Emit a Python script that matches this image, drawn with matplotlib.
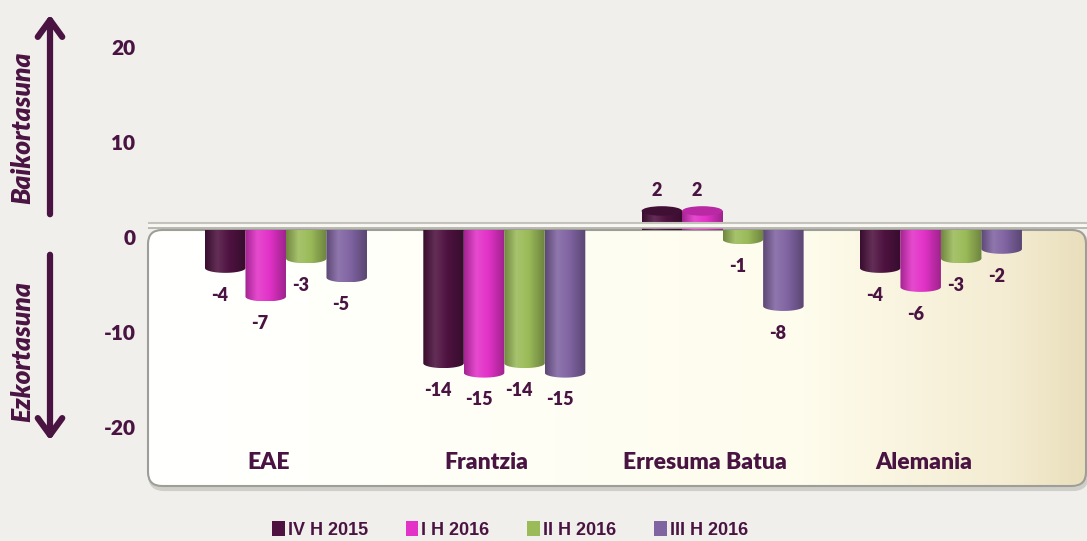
import matplotlib

matplotlib.use("Agg")
import matplotlib.pyplot as plt
import matplotlib.transforms as mtransforms
import numpy as np
from matplotlib.colors import LinearSegmentedColormap, to_rgb
from matplotlib.patches import FancyArrowPatch, FancyBboxPatch, PathPatch, Patch, Ellipse
from matplotlib.path import Path

categories = ["EAE", "Frantzia", "Erresuma Batua", "Alemania"]
series_names = ["IV H 2015", "I H 2016", "II H 2016", "III H 2016"]
iv_h_2015 = [-4, -14, 2, -4]
i_h_2016 = [-7, -15, 2, -6]
ii_h_2016 = [-3, -14, -1, -3]
iii_h_2016 = [-5, -15, -8, -2]
y_ticks = [20, 10, 0, -10, -20]

series_values = [iv_h_2015, i_h_2016, ii_h_2016, iii_h_2016]
colors = ["#4E1240", "#E232C8", "#9BBB59", "#8064A2"]
text_color = "#4A1442"
bg_color = "#F0EFEB"

W, H = 1087, 541
BAR_W = 0.1855
ELL_H = 1.0


def shade(color, f):
    r, g, b = to_rgb(color)
    if f < 1:
        return (r * f, g * f, b * f)
    t = f - 1
    return (r + (1 - r) * t, g + (1 - g) * t, b + (1 - b) * t)


def cylinder_cmap(color):
    return LinearSegmentedColormap.from_list(
        "cyl", [(0, shade(color, 0.72)), (0.3, shade(color, 1.12)), (0.6, shade(color, 1.0)), (1, shade(color, 0.7))]
    )


def draw_cylinder(ax, x0, value, color):
    x1 = x0 + BAR_W
    xc = x0 + BAR_W / 2
    t = np.linspace(np.pi, 2 * np.pi, 30)
    grad = np.linspace(0, 1, 128).reshape(1, -1)
    cmap = cylinder_cmap(color)
    if value < 0:
        arc = np.column_stack([xc + BAR_W / 2 * np.cos(t), value + ELL_H / 2 * np.sin(t)])
        verts = np.vstack([[x0, 0], arc, [x1, 0], [x0, 0]])
        lo, hi = value - ELL_H / 2, 0
    else:
        verts = np.vstack([[x0, value], [x0, 0], [x1, 0], [x1, value], [x0, value]])
        lo, hi = 0, value
    codes = [Path.MOVETO] + [Path.LINETO] * (len(verts) - 2) + [Path.CLOSEPOLY]
    patch = PathPatch(Path(verts, codes), fc="none", ec="none", zorder=3)
    ax.add_patch(patch)
    im = ax.imshow(grad, extent=(x0, x1, lo, hi), aspect="auto", cmap=cmap, zorder=3, interpolation="bilinear")
    im.set_clip_path(patch)
    if value > 0:
        cap = Ellipse((xc, value), BAR_W, ELL_H, fc=shade(color, 0.82), ec="none", zorder=4)
        ax.add_patch(cap)


def draw_background(fig):
    bg = fig.add_axes([0, 0, 1, 1], zorder=0)
    bg.set_xlim(0, W)
    bg.set_ylim(H, 0)
    bg.axis("off")

    # shadowed rounded panel below the zero line
    shadow = FancyBboxPatch((150, 233), 937, 256, boxstyle="round,pad=0,rounding_size=14",
                            fc="none", ec="#CFCEC8", lw=3)
    bg.add_patch(shadow)
    box = FancyBboxPatch((148, 230), 938, 256, boxstyle="round,pad=0,rounding_size=14",
                         fc="none", ec="#9E9E98", lw=1.5, zorder=3)
    bg.add_patch(box)
    cream = LinearSegmentedColormap.from_list(
        "cream", [(0, "#FFFFFF"), (0.3, "#FFFFF8"), (0.7, "#FEFCEC"), (0.92, "#F4ECD2"), (1, "#E9DFBC")]
    )
    im = bg.imshow(np.linspace(0, 1, 256).reshape(1, -1), extent=(148, 1086, 486, 230),
                   aspect="auto", cmap=cream, zorder=2)
    im.set_clip_path(box)

    # axis direction arrows
    for start, end in [((50, 217), (50, 12)), ((50, 252), (50, 443))]:
        arrow = FancyArrowPatch(start, end, arrowstyle="->,head_length=0.55,head_width=0.4",
                                mutation_scale=22, lw=4.5, color=text_color, capstyle="round")
        bg.add_patch(arrow)
    font = dict(rotation=90, ha="center", va="center", color=text_color, fontsize=19,
                fontweight=800, fontstyle="italic")
    bg.text(22, 128, "Baikortasuna", **font)
    bg.text(22, 352, "Ezkortasuna", **font)


def main():
    plt.rcParams["font.family"] = ["Lato", "DejaVu Sans"]
    fig = plt.figure(figsize=(W / 100, H / 100), dpi=100, facecolor=bg_color)
    draw_background(fig)

    ax = fig.add_axes([148 / W, (H - 490) / H, (W - 148) / W, 470 / H], zorder=1)
    ax.set_facecolor("none")

    x = np.arange(len(categories))
    n = len(series_values)
    for j, (values, color) in enumerate(zip(series_values, colors)):
        for i, v in enumerate(values):
            x0 = x[i] + (j - n / 2) * BAR_W
            draw_cylinder(ax, x0, v, color)
            off = -27 if v < 0 else 20
            ax.annotate(f"{v:g}", (x0 + BAR_W / 2, v), xytext=(-4, off * 0.72), textcoords="offset points",
                        ha="center", va="center", fontsize=13, fontweight=800, color=text_color, zorder=6)

    # rim over the zero line
    ax.axhspan(0.16, 0.73, color="#F8F7F2", zorder=5, lw=0)
    ax.axhline(0.73, color="#C4C3BB", lw=1.5, zorder=5)
    ax.axhline(0.16, color="#AFAEA6", lw=1.2, zorder=5)

    for i, name in enumerate(categories):
        ax.text(x[i] - 0.08, -24.4, name, ha="center", va="center", fontsize=16.5,
                fontweight=800, color=text_color, zorder=6)

    ax.set_xlim(-0.632, 3.669)
    ax.set_ylim(-27.30, 22.05)
    ax.set_yticks(y_ticks)
    ax.set_yticklabels([f"{t:g}" for t in y_ticks])
    ax.set_xticks([])
    ax.tick_params(axis="y", length=0, pad=9, labelsize=15, labelcolor=text_color)
    for label in ax.get_yticklabels():
        label.set_fontweight(800)
        label.set_transform(label.get_transform() + mtransforms.ScaledTranslation(0, -0.07, fig.dpi_scale_trans))
    for spine in ax.spines.values():
        spine.set_visible(False)

    handles = [Patch(fc=c, ec="none") for c in colors]
    fig.legend(handles, series_names, loc="center", bbox_to_anchor=(510 / W, (H - 530) / H), ncol=4,
               frameon=False, handlelength=0.7, handleheight=0.85, handletextpad=0.17, columnspacing=2.1,
               prop=dict(family="Liberation Sans", weight="bold", size=13),
               labelcolor=text_color)

    fig.savefig("out.png", dpi=100, facecolor=bg_color)
    plt.close(fig)


if __name__ == "__main__":
    main()
